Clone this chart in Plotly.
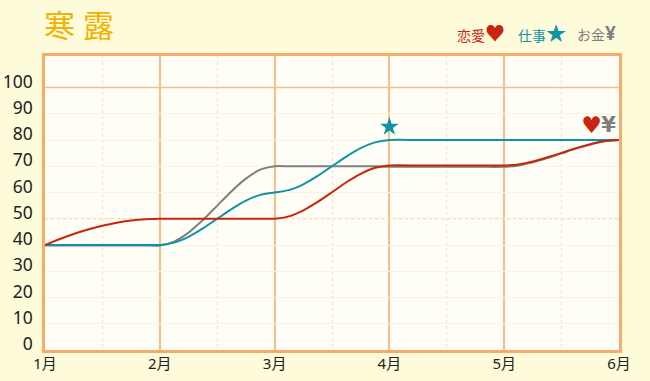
import plotly.graph_objects as go

months = ["1月", "2月", "3月", "4月", "5月", "6月"]
month_pos = [1, 2, 3, 4, 5, 6]
x_vals = [1, 1.125, 1.25, 1.375, 1.5, 1.625, 1.75, 1.875,
          2, 2.125, 2.25, 2.375, 2.5, 2.625, 2.75, 2.875,
          3, 3.125, 3.25, 3.375, 3.5, 3.625, 3.75, 3.875,
          4, 4.25, 4.5, 4.75,
          5, 5.125, 5.25, 5.375, 5.5, 5.625, 5.75, 5.875, 6]
love = [40, 42.2, 44.2, 45.9, 47.3, 48.5, 49.3, 49.8,
        50, 50, 50, 50, 50, 50, 50, 50,
        50, 50.9, 53.2, 56.4, 60.1, 63.9, 67.1, 69.4,
        70.3, 70.3, 70.3, 70.3,
        70.3, 70.7, 71.8, 73.4, 75.1, 76.9, 78.4, 79.6, 80]
work = [40, 40, 40, 40, 40, 40, 40, 40,
        40, 40.9, 43.1, 46.3, 50, 53.7, 56.9, 59.1,
        60, 60.9, 63.1, 66.3, 70, 73.7, 76.9, 79.1,
        80, 80, 80, 80,
        80, 80, 80, 80, 80, 80, 80, 80, 80]
money = [39.8, 39.8, 39.8, 39.8, 39.8, 39.8, 39.8, 39.8,
         39.8, 41.3, 44.7, 49.5, 55, 60.5, 65.3, 68.7,
         70, 70, 70, 70, 70, 70, 70, 70,
         69.8, 69.8, 69.8, 69.8,
         69.8, 70.3, 71.5, 73.1, 74.9, 76.7, 78.3, 79.5, 80]
y_ticks = [0, 10, 20, 30, 40, 50, 60, 70, 80, 90, 100]

BG = "#FEFBDB"
PLOT = "#FFFEF6"
OR = "#F9A96A"
RED = "#C8250F"
TEAL = "#0E93A6"
GRAY = "#7F7F7F"

fig = go.Figure()
for name, vals, col in [("お金", money, GRAY), ("仕事", work, TEAL), ("恋愛", love, RED)]:
    fig.add_trace(go.Scatter(x=x_vals, y=vals, name=name, mode="lines",
                             line=dict(color=col, width=2, shape="spline", smoothing=0.7),
                             cliponaxis=False, showlegend=False))

fig.add_trace(go.Scatter(x=[4], y=[85], mode="markers", showlegend=False,
                         marker=dict(symbol="star", size=14, color=TEAL, line=dict(width=0))))
fig.add_trace(go.Scatter(x=[5.76, 5.91], y=[85, 85], mode="text", showlegend=False,
                         text=["♥", "<b>¥</b>"], textposition="middle center",
                         textfont=dict(size=[23, 21], color=[RED, GRAY],
                                       family="DejaVu Sans")))

fig.update_layout(
    width=650, height=381, autosize=False,
    margin=dict(l=45, r=31, t=56, b=31, autoexpand=False),
    paper_bgcolor=BG, plot_bgcolor=PLOT,
    font=dict(family="Noto Sans, Noto Sans CJK JP, sans-serif", color="#222222"),
    xaxis=dict(range=[1, 6], tickmode="array", tickvals=month_pos, ticktext=months, automargin=False,
               showgrid=True, gridcolor="#F9BE8C", gridwidth=1.5, zeroline=False,
               tickfont=dict(size=15), ticks="", ticklabelstandoff=-2,
               minor=dict(dtick=0.5, showgrid=True, gridcolor="#FBDFC0", griddash="dot", gridwidth=1),
               showline=True, linecolor=OR, linewidth=2.5, mirror=True),
    yaxis=dict(range=[0, 112], tickmode="array", tickvals=y_ticks, automargin=False,
               showgrid=True, gridcolor="#FDF1E0", gridwidth=1, zeroline=False,
               tickfont=dict(size=17.5), ticks="", ticklabelshift=-6, ticklabelstandoff=6,
               showline=True, linecolor=OR, linewidth=2.5, mirror=True),
    shapes=[
        dict(type="line", xref="x", yref="y", x0=1, x1=6, y0=100, y1=100, layer="between",
             line=dict(color="#F9BE8C", width=1.5)),
        dict(type="line", xref="x", yref="y", x0=1, x1=6, y0=50, y1=50, layer="between",
             line=dict(color="#FBD0A5", width=1, dash="dot")),
    ],
    annotations=[
        dict(text="寒", xref="paper", yref="paper", x=-0.005, y=1.105, xanchor="left", yanchor="middle",
             showarrow=False, font=dict(size=31, color="#F2B200")),
        dict(text="露", xref="paper", yref="paper", x=0.062, y=1.105, xanchor="left", yanchor="middle",
             showarrow=False, font=dict(size=31, color="#F2B200")),
        dict(text='恋愛<span style="font-size:20px">♥</span>', x=0.715, y=1.077, xref="paper", yref="paper",
             xanchor="left", yanchor="middle", showarrow=False, font=dict(size=14, color=RED)),
        dict(text='仕事<span style="font-size:20px">★</span>', x=0.82, y=1.077, xref="paper", yref="paper",
             xanchor="left", yanchor="middle", showarrow=False, font=dict(size=14, color=TEAL)),
        dict(text='お金<b><span style="font-size:19px">¥</span></b>', x=0.923, y=1.077, xref="paper", yref="paper",
             xanchor="left", yanchor="middle", showarrow=False, font=dict(size=14, color=GRAY)),
    ],
)

fig.write_html("out.html", config=dict(displayModeBar=False),
               post_script="document.body.style.margin='0';document.body.style.background='#FEFBDB';")
